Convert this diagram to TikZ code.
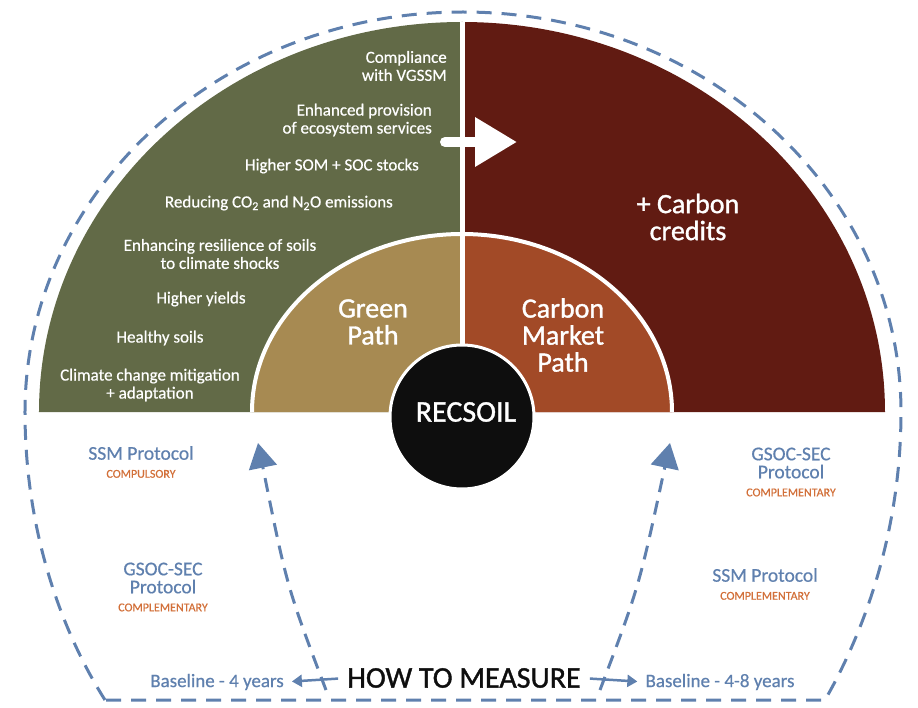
\documentclass[tikz,border=0pt]{standalone}
\usepackage{fontspec}
\setmainfont{Carlito}
\newfontfamily\semifont{Carlito}[FakeBold=0.6]
\newfontfamily\heavyfont{Carlito}[FakeBold=1.2]
\usetikzlibrary{arrows.meta}

\definecolor{soilgreen}{HTML}{626A47}
\definecolor{pathtan}{HTML}{A78A52}
\definecolor{pathrust}{HTML}{A24A27}
\definecolor{carbonred}{HTML}{611B12}
\definecolor{measureblue}{HTML}{5F80AE}
\definecolor{tagorange}{HTML}{D2703A}
\definecolor{recsoilblack}{HTML}{0E0E0E}

\newcommand{\tagtext}[1]{{\color{tagorange}\semifont\fontsize{12}{14}\selectfont #1}}

\tikzset{
  benefit/.style={text=white, font=\semifont\fontsize{17}{18}\selectfont, inner sep=0pt},
  pathname/.style={text=white, font=\heavyfont\fontsize{28}{27}\selectfont, align=center, inner sep=0pt},
  protocol/.style={text=measureblue, font=\semifont\fontsize{19.5}{18}\selectfont, align=center, inner sep=0pt},
  baseyears/.style={text=measureblue, font=\semifont\fontsize{19}{20}\selectfont, inner sep=0pt},
  measurearrow/.style={measureblue, line width=3pt, dash pattern=on 14pt off 9pt,
    -{Triangle[length=25pt,width=28pt]}},
  yeararrow/.style={measureblue, line width=2.5pt, shorten <=9pt, shorten >=8pt,
    -{Triangle[length=10pt,width=12pt]}}
}

\begin{document}
\begin{tikzpicture}[x=1pt,y=1pt]
  \useasboundingbox (-462,-295) rectangle (456,412);
  % outer half ring
  \fill[soilgreen] (0,0) -- (-423,0) arc[start angle=180, end angle=90, x radius=423, y radius=390] -- cycle;
  \fill[carbonred] (0,0) -- (0,390) arc[start angle=90, end angle=0, x radius=423, y radius=390] -- cycle;
  % inner paths
  \fill[pathtan] (0,0) -- (-210,0) arc[start angle=180, end angle=90, x radius=210, y radius=178] -- cycle;
  \fill[pathrust] (0,0) -- (0,178) arc[start angle=90, end angle=0, x radius=210, y radius=178] -- cycle;
  \draw[white, line width=4pt] (-210,0) arc[start angle=180, end angle=0, x radius=210, y radius=178];
  \draw[white, line width=5pt] (0,0) -- (0,390);
  % centre
  \node[circle, fill=recsoilblack, draw=white, line width=3pt, minimum size=144pt, inner sep=0pt] (recsoil) at (0,-5) {};
  \node[text=white, font=\heavyfont\fontsize{30}{30}\selectfont] (recsoilname) at (4,0) {RECSOIL};

  % white arrow into the carbon side
  \coordinate (greenSide) at (-17,270);
  \coordinate (redSide) at (55,270);
  \draw[white, line width=10pt, line cap=round, -{Triangle[length=42pt,width=47pt]}] (greenSide) -- (redSide);

  % benefits
  \node[benefit, anchor=east, align=right] (vgssm) at (-15,346) {Compliance\\with VGSSM};
  \node[benefit, anchor=east, align=right] (ecosys) at (-30,292) {Enhanced provision\\of ecosystem services};
  \node[benefit, anchor=east] (somsoc) at (-43,246) {Higher SOM + SOC stocks};
  \node[benefit, anchor=east] (emis) at (-69,209) {Reducing CO\textsubscript{2} and N\textsubscript{2}O emissions};
  \node[benefit, align=center] (resil) at (-242,158) {Enhancing resilience of soils\\to climate shocks};
  \node[benefit] (yields) at (-261,113) {Higher yields};
  \node[benefit] (healthy) at (-302,74) {Healthy soils};
  \node[benefit, align=center] (climate) at (-312,27) {Climate change mitigation\\+ adaptation};

  \node[pathname] (green) at (-89,90) {Green\\Path};
  \node[pathname] (market) at (101,77) {Carbon\\Market\\Path};
  \node[pathname] (credits) at (226,195) {+ Carbon\\credits};

  % how to measure
  \draw[measureblue, line width=3pt, dash pattern=on 15pt off 10pt]
    (-357,-288) .. controls (-400,-220) and (-437,-120) .. (-437,0)
    arc[start angle=180, end angle=0, x radius=438, y radius=400]
    .. controls (439,-120) and (402,-220) .. (363,-288) -- cycle;

  \node[protocol] (ssmA) at (-321,-50) {SSM Protocol\\\tagtext{COMPULSORY}};
  \node[protocol] (gsocA) at (-299,-175) {GSOC-SEC\\Protocol\\\tagtext{COMPLEMENTARY}};
  \node[protocol] (gsocB) at (329,-60) {GSOC-SEC\\Protocol\\\tagtext{COMPLEMENTARY}};
  \node[protocol] (ssmB) at (303,-172) {SSM Protocol\\\tagtext{COMPLEMENTARY}};

  \node[text=recsoilblack, font=\heavyfont\fontsize{30}{30}\selectfont, inner sep=0pt] (how) at (2,-266) {HOW TO MEASURE};
  \node[baseyears] (baseA) at (-245,-270) {Baseline - 4 years};
  \node[baseyears] (baseB) at (258,-270) {Baseline - 4-8 years};
  \draw[yeararrow] (how.west) -- (baseA.east);
  \draw[yeararrow] (how.east) -- (baseB.west);

  \coordinate (greenFoot) at (-136,-278);
  \coordinate (greenTip) at (-204,-31);
  \coordinate (marketFoot) at (138,-278);
  \coordinate (marketTip) at (208,-31);
  \draw[measurearrow] (greenFoot) .. controls (-175,-175) .. (greenTip);
  \draw[measurearrow] (marketFoot) .. controls (177,-175) .. (marketTip);
\end{tikzpicture}
\end{document}
